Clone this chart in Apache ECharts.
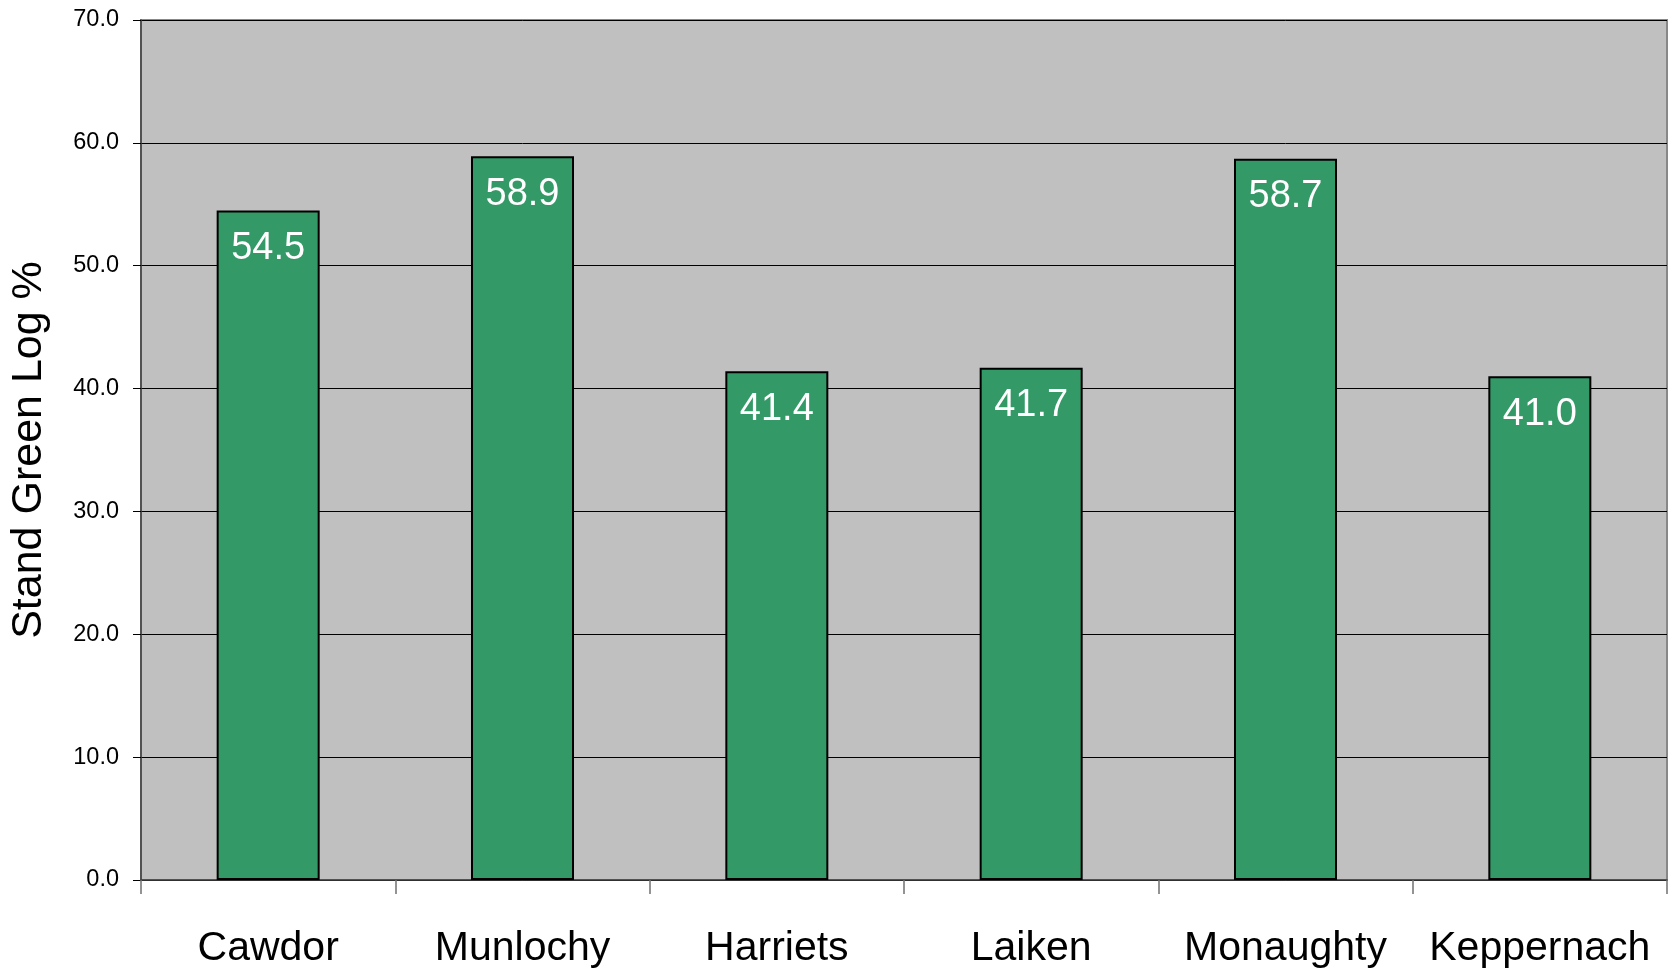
<!DOCTYPE html>
<html><head><meta charset="utf-8">
<script src="https://cdn.jsdelivr.net/npm/echarts@6/dist/echarts.min.js"></script>
<style>html,body{margin:0;padding:0;background:#fff}#c{width:1671px;height:971px}</style>
</head><body><div id="c"></div>
<script>
const categories = ['Cawdor', 'Munlochy', 'Harriets', 'Laiken', 'Monaughty', 'Keppernach'];
const values = [54.5, 58.9, 41.4, 41.7, 58.7, 41.0];
const yAxisName = 'Stand Green Log %';

const chart = echarts.init(document.getElementById('c'), null, {renderer: 'canvas'});
const font = '"Liberation Sans", Arial, sans-serif';
chart.setOption({
  animation: false,
  grid: {left: 140, right: 4, top: 20, bottom: 91, show: true, backgroundColor: '#c0c0c0', borderColor: '#888888', borderWidth: 2},
  xAxis: {
    type: 'category', data: categories,
    axisLine: {lineStyle: {color: '#404040', width: 1.5}},
    axisTick: {show: true, length: 14, interval: 0, lineStyle: {color: '#707070', width: 1.5}},
    axisLabel: {color: '#000', fontFamily: font, fontSize: 41, margin: 48, interval: 0}
  },
  yAxis: {
    type: 'value', min: 0, max: 70, interval: 10,
    name: yAxisName, nameLocation: 'middle', nameGap: 90,
    nameTextStyle: {color: '#000', fontFamily: font, fontSize: 43},
    axisLine: {show: true, lineStyle: {color: '#404040', width: 1.5}},
    axisTick: {show: true, length: 8, lineStyle: {color: '#000', width: 1}},
    axisLabel: {color: '#000', fontFamily: font, fontSize: 23.5, margin: 22, formatter: v => v.toFixed(1)},
    splitLine: {show: true, lineStyle: {color: '#000', width: 1}}
  },
  series: [{
    type: 'bar', data: values, barWidth: '40.5%',
    itemStyle: {color: '#339966', borderColor: '#000', borderWidth: 2},
    label: {show: true, position: 'insideTop', distance: 19, color: '#fff', fontFamily: font, fontSize: 38, formatter: p => p.value.toFixed(1)}
  }]
});
</script></body></html>
